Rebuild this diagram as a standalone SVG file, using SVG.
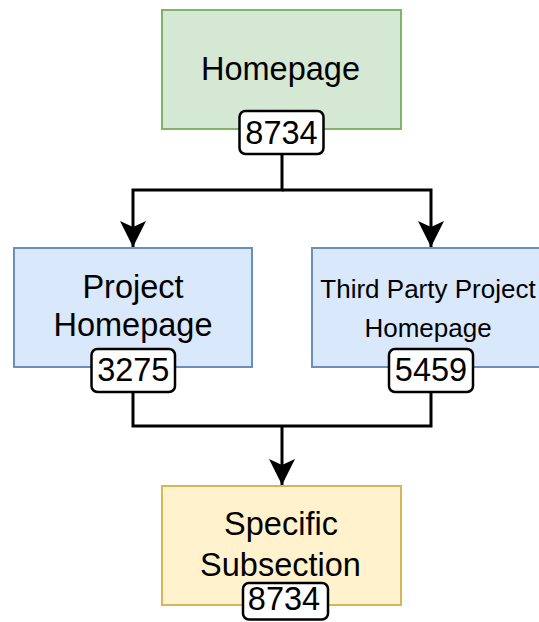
<svg xmlns="http://www.w3.org/2000/svg" width="539" height="622" viewBox="0 0 539 622">
  <style>
    .box { stroke-width: 2; }
    .green { fill: #d5e8d4; stroke: #82b366; }
    .blue { fill: #dae8fc; stroke: #6c8ebf; }
    .yellow { fill: #fff2cc; stroke: #d6b656; }
    .badge { fill: #ffffff; stroke: #000000; stroke-width: 2.5; }
    .t { font-family: "Liberation Sans", Arial, sans-serif; fill: #000000; text-anchor: middle; }
    .big { font-size: 32.5px; }
    .small { font-size: 26px; }
    .edge { fill: none; stroke: #000000; stroke-width: 3; }
  </style>
  <defs>
    <marker id="arrow" viewBox="0 0 26 26" refX="26" refY="13" markerWidth="26" markerHeight="26" markerUnits="userSpaceOnUse" orient="auto">
      <path d="M26,13 L0,0 L6,13 L0,26 Z" fill="#000000"/>
    </marker>
  </defs>

  <!-- connectors -->
  <g id="connectors">
    <path class="edge" d="M282,154 V190 H133 V247" marker-end="url(#arrow)"/>
    <path class="edge" d="M282,190 H431 V247" marker-end="url(#arrow)"/>
    <path class="edge" d="M133,392 V426 H431 V392"/>
    <path class="edge" d="M282,426 V485" marker-end="url(#arrow)"/>
  </g>

  <g id="homepage">
    <rect class="box green" x="162" y="10" width="239" height="119"/>
    <text class="t big" x="280.5" y="80">Homepage</text>
    <rect class="badge" x="239.5" y="111" width="84" height="43" rx="6"/>
    <text class="t big" x="281.5" y="143.5">8734</text>
  </g>

  <g id="project-homepage">
    <rect class="box blue" x="14" y="248" width="238" height="119"/>
    <text class="t big" x="133" y="297.5">Project</text>
    <text class="t big" x="133" y="336">Homepage</text>
    <rect class="badge" x="91.5" y="349" width="83.5" height="43" rx="6"/>
    <text class="t big" x="133.3" y="381">3275</text>
  </g>

  <g id="third-party-homepage">
    <rect class="box blue" x="312" y="248" width="239" height="119"/>
    <text class="t small" x="428" y="297.5">Third Party Project</text>
    <text class="t small" x="428" y="337">Homepage</text>
    <rect class="badge" x="389" y="349" width="84" height="43" rx="6"/>
    <text class="t big" x="431" y="381">5459</text>
  </g>

  <g id="specific-subsection">
    <rect class="box yellow" x="162" y="486" width="239" height="119"/>
    <text class="t big" x="281" y="534.5">Specific</text>
    <text class="t big" x="280.5" y="575.5">Subsection</text>
    <rect class="badge" x="243" y="583" width="85" height="36.5" rx="6"/>
    <text class="t big" x="284" y="610">8734</text>
  </g>
</svg>
